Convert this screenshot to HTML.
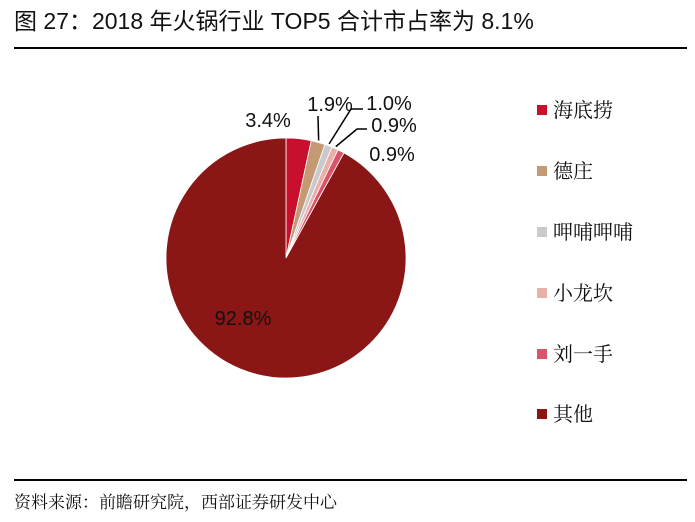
<!DOCTYPE html>
<html><head><meta charset="utf-8"><style>
body{margin:0;background:#fff;width:695px;height:522px;overflow:hidden;position:relative;font-family:"Liberation Sans","Noto Sans CJK SC",sans-serif}
.t{position:absolute;left:14px;top:6px;font-size:23px;line-height:30px;color:#111}
.ln{position:absolute;left:14px;width:673px;height:2px;background:#000}
.src{position:absolute;left:14px;top:488px;font-size:17px;font-family:"Liberation Serif","Noto Serif CJK SC",serif;color:#111}
</style></head><body>
<div class="t">图 27：2018 年火锅行业 TOP5 合计市占率为 8.1%</div>
<div class="ln" style="top:47px"></div>
<div class="ln" style="top:479px"></div>
<div class="src">资料来源：前瞻研究院，西部证券研发中心</div>
<svg id="c" width="695" height="522" style="position:absolute;left:0;top:0"></svg>
<script>
const categories=["海底捞","德庄","呷哺呷哺","小龙坎","刘一手","其他"];
const values=[3.4,1.9,1.0,0.9,0.9,92.8];
const labels=["3.4%","1.9%","1.0%","0.9%","0.9%","92.8%"];
const colors=["#c8102e","#c49a74","#c9c9ce","#e8b0a8","#d9546a","#8b1616"];
const svg=document.getElementById('c');const NS='http://www.w3.org/2000/svg';
const cx=286,cy=258,r=120;
function mk(t,a){const e=document.createElementNS(NS,t);for(const k in a)e.setAttribute(k,a[k]);svg.appendChild(e);return e;}
const total=values.reduce((a,b)=>a+b,0);
function pt(ang,rr){return [cx+rr*Math.sin(ang),cy-rr*Math.cos(ang)];}
let a0=0;const mids=[];
values.forEach((v,i)=>{const a1=a0+v/total*2*Math.PI;const p0=pt(a0,r),p1=pt(a1,r);
const large=(a1-a0)>Math.PI?1:0;
const p=mk('path',{d:`M${cx},${cy}L${p0[0]},${p0[1]}A${r},${r} 0 ${large} 1 ${p1[0]},${p1[1]}Z`,fill:colors[i],stroke:'#fff','stroke-width':0.8});


mids.push((a0+a1)/2);a0=a1;});
const lp=[[268,127],[330,111],[389,110],[394,132],[392,161],[243,325]];
labels.forEach((l,i)=>{const t=mk('text',{x:lp[i][0],y:lp[i][1],'font-size':20,'text-anchor':'middle',fill:'#111','font-family':'Liberation Sans,sans-serif'});t.textContent=l;

});
function lead(i,pts){const e=pt(mids[i],r+2);const d='M'+e[0]+','+e[1]+pts.map(p=>'L'+p[0]+','+p[1]).join('');
const l=mk('path',{d:d,stroke:'#000','stroke-width':1.5,fill:'none'});

}
lead(1,[[318,116]]);
lead(2,[[351,109],[363,109]]);
lead(3,[[357,129],[367,129]]);
const ly=[110,171,232,293,354,414];
categories.forEach((c,i)=>{const g=mk('g',{});

const s=document.createElementNS(NS,'rect');s.setAttribute('x',537);s.setAttribute('y',ly[i]-5);s.setAttribute('width',10);s.setAttribute('height',10);s.setAttribute('fill',colors[i]);g.appendChild(s);
const t=document.createElementNS(NS,'text');t.setAttribute('x',553);t.setAttribute('y',ly[i]+7);t.setAttribute('font-size',20);t.setAttribute('font-family','Noto Serif CJK SC,serif');t.setAttribute('fill','#111');t.textContent=c;g.appendChild(t);});
</script>
</body></html>
